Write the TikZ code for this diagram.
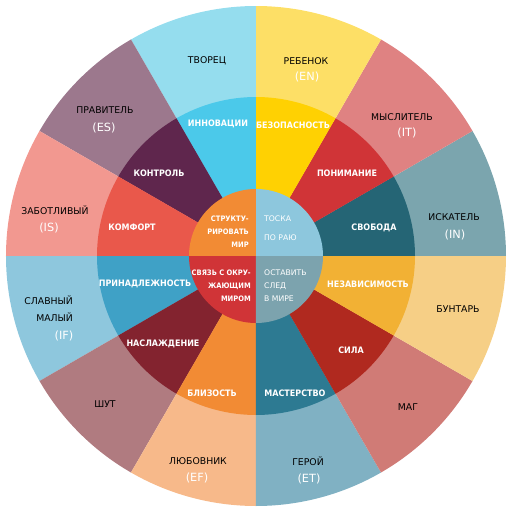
\documentclass[tikz,border=0pt]{standalone}
\usepackage{fontspec}
\setmainfont{DejaVu Sans}
\newfontfamily\narrowfont[FakeStretch=0.9]{DejaVu Sans}

% outer ring
\definecolor{seeker}{HTML}{7BA5AE}
\definecolor{thinker}{HTML}{DF8282}
\definecolor{child}{HTML}{FDDF66}
\definecolor{creator}{HTML}{95DDEE}
\definecolor{ruler}{HTML}{9C788D}
\definecolor{caregiver}{HTML}{F29890}
\definecolor{everyman}{HTML}{8EC7DD}
\definecolor{jester}{HTML}{B07B80}
\definecolor{lover}{HTML}{F7B98A}
\definecolor{hero}{HTML}{80B1C3}
\definecolor{magician}{HTML}{D07B76}
\definecolor{rebel}{HTML}{F6CF86}
% middle ring
\definecolor{freedom}{HTML}{256575}
\definecolor{insight}{HTML}{D03437}
\definecolor{safety}{HTML}{FFD102}
\definecolor{innovation}{HTML}{4BC9EA}
\definecolor{control}{HTML}{5F264D}
\definecolor{comfort}{HTML}{E9584B}
\definecolor{belonging}{HTML}{3FA1C6}
\definecolor{pleasure}{HTML}{83232F}
\definecolor{intimacy}{HTML}{F28B34}
\definecolor{mastery}{HTML}{2D7A92}
\definecolor{power}{HTML}{B0291F}
\definecolor{liberty}{HTML}{F2B134}
% core
\definecolor{paradise}{HTML}{8DC7DD}
\definecolor{structure}{HTML}{F28B34}
\definecolor{connect}{HTML}{D03437}
\definecolor{legacy}{HTML}{7CA3AE}

\begin{document}
\begin{tikzpicture}[x=1pt,y=1pt,
	outer/.style={font=\fontsize{9.3}{17}\selectfont, text=black, inner sep=0pt},
	code/.style={font=\fontsize{11.3}{13}\selectfont, text=white, inner sep=0pt},
	middle/.style={font=\narrowfont\bfseries\fontsize{8.9}{10}\selectfont, text=white, inner sep=0pt},
	inleft/.style={font=\narrowfont\bfseries\fontsize{7.5}{13}\selectfont, text=white,
		align=right, anchor=east, inner sep=0pt},
	inright/.style={font=\fontsize{7.7}{13}\selectfont, text=white,
		align=left, anchor=west, inner sep=0pt}]
	\useasboundingbox (-256,-256) rectangle (256,256);
	% rings
	\foreach \a/\c in {0/seeker,30/thinker,60/child,90/creator,120/ruler,150/caregiver,
		180/everyman,210/jester,240/lover,270/hero,300/magician,330/rebel}
		\fill[\c] (0,0) -- (\a:250) arc[start angle=\a, delta angle=30, radius=250] -- cycle;
	\foreach \a/\c in {0/freedom,30/insight,60/safety,90/innovation,120/control,150/comfort,
		180/belonging,210/pleasure,240/intimacy,270/mastery,300/power,330/liberty}
		\fill[\c] (0,0) -- (\a:159) arc[start angle=\a, delta angle=30, radius=159] -- cycle;
	\foreach \a/\c in {0/paradise,90/structure,180/connect,270/legacy}
		\fill[\c] (0,0) -- (\a:67) arc[start angle=\a, delta angle=90, radius=67] -- cycle;

	% outer labels
	\node[outer] (creator) at (-49,195) {ТВОРЕЦ};
	\node[outer] (ruler) at (-151,146) {ПРАВИТЕЛЬ};
	\node[code] (ruler-code) at (-152,128) {(ES)};
	\node[outer] (caregiver) at (-201,46) {ЗАБОТЛИВЫЙ};
	\node[code] (caregiver-code) at (-207,28) {(IS)};
	\node[outer, align=right, anchor=east] (everyman) at (-183,-53) {СЛАВНЫЙ\\МАЛЫЙ};
	\node[code] (everyman-code) at (-192,-80) {(IF)};
	\node[outer] (jester) at (-151,-148) {ШУТ};
	\node[outer] (lover) at (-58,-205) {ЛЮБОВНИК};
	\node[code] (lover-code) at (-59,-222) {(EF)};
	\node[outer] (hero) at (52,-205) {ГЕРОЙ};
	\node[code] (hero-code) at (53,-223) {(ET)};
	\node[outer] (magician) at (152,-151) {МАГ};
	\node[outer] (rebel) at (202,-53) {БУНТАРЬ};
	\node[outer] (seeker) at (198,39) {ИСКАТЕЛЬ};
	\node[code] (seeker-code) at (199,21) {(IN)};
	\node[outer] (thinker) at (146,139) {МЫСЛИТЕЛЬ};
	\node[code] (thinker-code) at (151,123) {(IT)};
	\node[outer] (child) at (50,195) {РЕБЕНОК};
	\node[code] (child-code) at (51,179) {(EN)};

	% middle labels
	\node[middle] (innovation) at (-38,132) {ИННОВАЦИИ};
	\node[middle] (control) at (-97,83) {КОНТРОЛЬ};
	\node[middle] (comfort) at (-124,29) {КОМФОРТ};
	\node[middle] (belonging) at (-111,-28) {ПРИНАДЛЕЖНОСТЬ};
	\node[middle] (pleasure) at (-93,-88) {НАСЛАЖДЕНИЕ};
	\node[middle] (intimacy) at (-44,-137) {БЛИЗОСТЬ};
	\node[middle] (mastery) at (39,-137) {МАСТЕРСТВО};
	\node[middle] (power) at (95,-94) {СИЛА};
	\node[middle] (liberty) at (112,-28) {НЕЗАВИСИМОСТЬ};
	\node[middle] (freedom) at (118,28) {СВОБОДА};
	\node[middle] (insight) at (91,83) {ПОНИМАНИЕ};
	\node[middle] (safety) at (37,131) {БЕЗОПАСНОСТЬ};

	% core
	\node[inleft] (structure) at (-7,24) {СТРУКТУ-\\РИРОВАТЬ\\МИР};
	\node[inright] (paradise) at (8,27.5) {ТОСКА\\[6pt]ПО РАЮ};
	\node[inleft] (connect) at (-5,-30) {СВЯЗЬ С ОКРУ-\\ЖАЮЩИМ\\МИРОМ};
	\node[inright] (legacy) at (8,-30) {ОСТАВИТЬ\\СЛЕД\\В МИРЕ};
\end{tikzpicture}
\end{document}
